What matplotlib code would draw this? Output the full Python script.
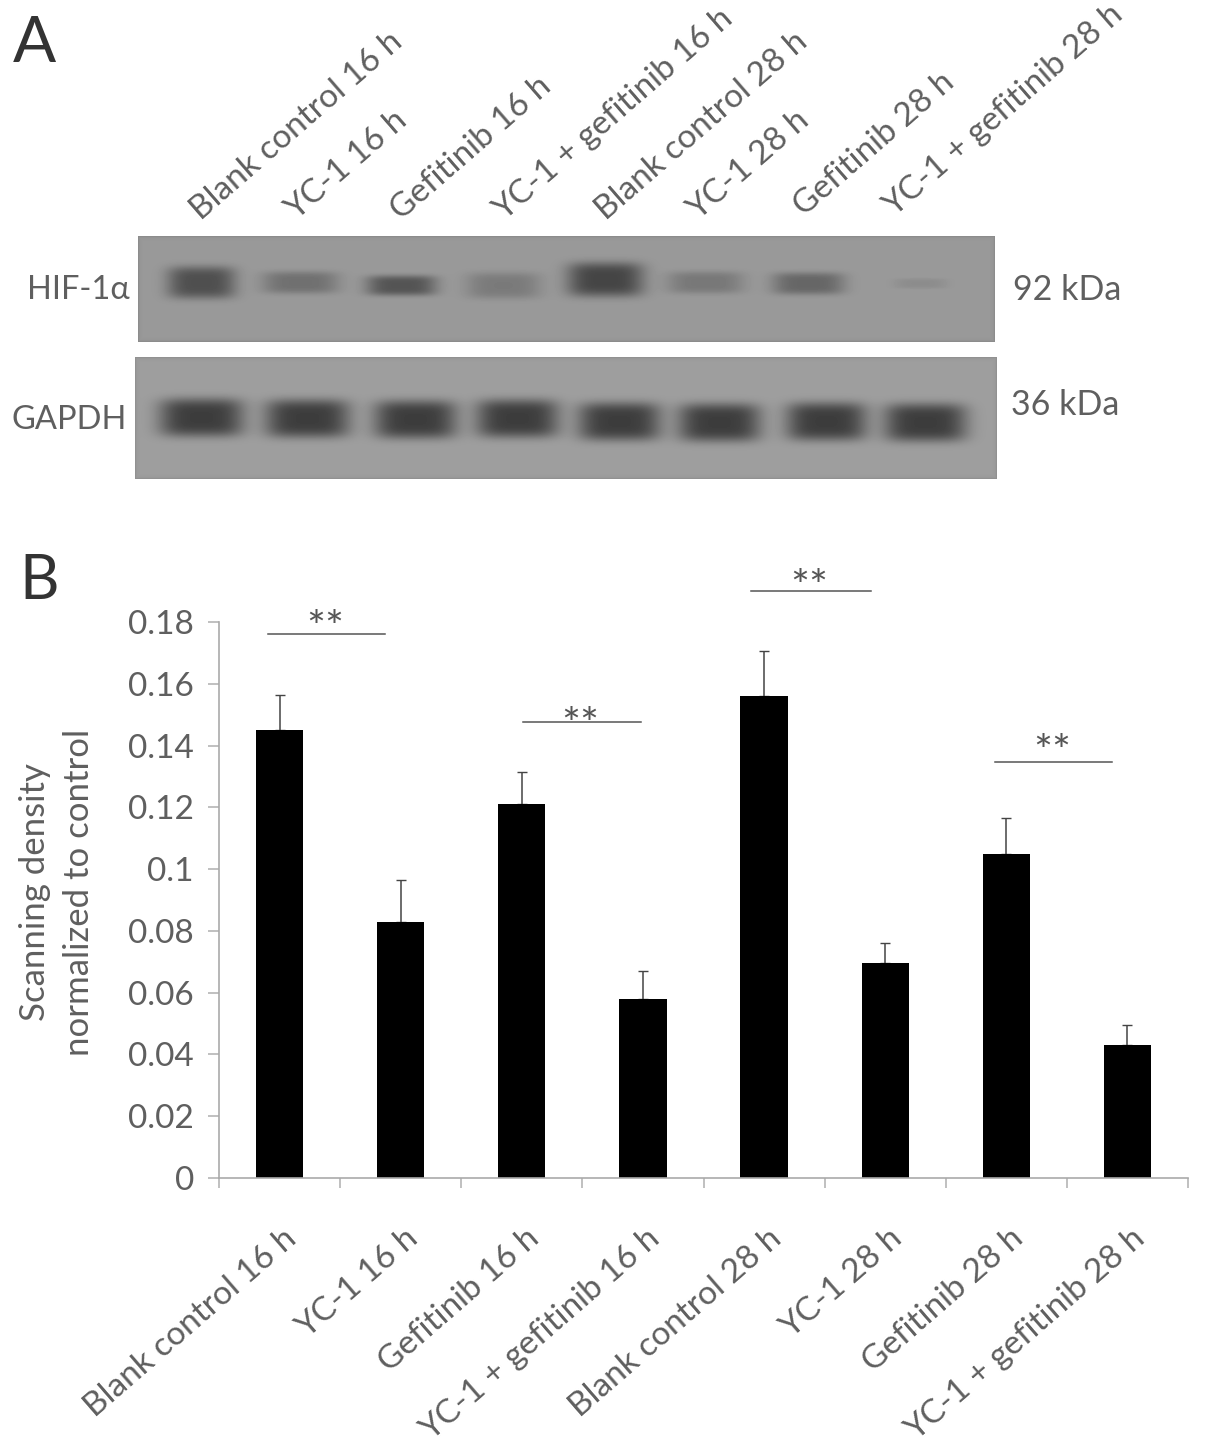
import numpy as np
import matplotlib
matplotlib.use('Agg')
import matplotlib.pyplot as plt

plt.rcParams['font.family'] = ['Lato', 'DejaVu Sans']
W, H = 1205, 1450
TXT = '#5f5f5f'

categories = ['Blank control 16 h', 'YC-1 16 h', 'Gefitinib 16 h', 'YC-1 + gefitinib 16 h',
              'Blank control 28 h', 'YC-1 28 h', 'Gefitinib 28 h', 'YC-1 + gefitinib 28 h']
values = [0.145, 0.083, 0.121, 0.058, 0.156, 0.0695, 0.105, 0.043]
errors = [0.0115, 0.0135, 0.0105, 0.009, 0.0145, 0.0065, 0.0115, 0.0065]
yticks = [0, 0.02, 0.04, 0.06, 0.08, 0.1, 0.12, 0.14, 0.16, 0.18]
ytick_labels = ['0', '0.02', '0.04', '0.06', '0.08', '0.1', '0.12', '0.14', '0.16', '0.18']
sig_start = [-0.095, 2.01, 3.89, 5.91]
sig_end = [0.87, 2.98, 4.88, 6.87]
sig_level = [0.1761, 0.1476, 0.19, 0.1347]
sig_star = [0.1816, 0.1502, 0.1946, 0.1412]

hif_x = [201, 300, 401, 503, 605, 705, 808, 920]
hif_y = [282, 282, 285, 285, 279, 282, 283, 283]
hif_w = [34, 38, 35, 37, 38, 38, 36, 26]
hif_h = [16, 11, 10, 13, 17, 11, 11, 5]
hif_g = [0.31, 0.44, 0.33, 0.48, 0.27, 0.47, 0.40, 0.55]
gapdh_x = [201, 307, 415, 517, 619, 719, 826, 925]
gapdh_y = [417, 418, 419, 418, 421, 422, 421, 422]
gapdh_w = [42, 42, 41, 41, 41, 41, 40, 41]
gapdh_h = [19, 19, 19, 19, 19, 19, 19, 19]
gapdh_g = [0.24, 0.24, 0.24, 0.24, 0.24, 0.24, 0.24, 0.24]

fig = plt.figure(figsize=(W / 100, H / 100), dpi=100, facecolor='white')


def ax_px(x0, y0, x1, y1):
    return fig.add_axes([x0 / W, 1 - y1 / H, (x1 - x0) / W, (y1 - y0) / H])


def blot(x0, y0, x1, y1, xs, ys, ws, hs, gs, bg):
    ax = ax_px(x0, y0, x1, y1)
    X, Y = np.meshgrid(np.arange(x0, x1), np.arange(y0, y1))
    img = np.full(X.shape, bg, dtype=float)
    for x, y, w, h, g in zip(xs, ys, ws, hs, gs):
        r = (np.abs(X - x) / w) ** 4 + (np.abs(Y - y) / h) ** 4
        img -= (bg - g) * np.exp(-r)
    edge = np.minimum.reduce([X - x0, x1 - 1 - X, Y - y0, y1 - 1 - Y])
    img -= 0.05 * np.exp(-edge / 1.5)
    ax.imshow(img, cmap='gray', vmin=0, vmax=1, aspect='auto', interpolation='bilinear',
              extent=(x0, x1, y1, y0))
    ax.axis('off')


blot(138, 236, 995, 342, hif_x, hif_y, hif_w, hif_h, hif_g, 0.60)
blot(135, 357, 997, 479, gapdh_x, gapdh_y, gapdh_w, gapdh_h, gapdh_g, 0.62)

ax = ax_px(219, 622, 1188, 1178)
pos = np.arange(len(values))
ax.bar(pos, values, width=0.39, color='black', zorder=2)
ax.errorbar(pos, values, yerr=[np.zeros(8), errors], fmt='none', ecolor='#444444',
            elinewidth=1.1, capsize=3.5, capthick=1.0, zorder=1)
ax.set_xlim(-0.5, 7.5)
ax.set_ylim(0, 0.18)
ax.set_yticks(yticks)
ax.set_yticklabels(ytick_labels, fontsize=24, color=TXT)
ax.set_xticks(np.arange(-0.5, 8, 1))
ax.set_xticklabels([])
ax.tick_params(axis='y', length=8, color='#b5b5b5', width=1.2, pad=10)
ax.tick_params(axis='x', length=7.5, color='#b5b5b5', width=1.2)
for s in ('top', 'right'):
    ax.spines[s].set_visible(False)
for s in ('left', 'bottom'):
    ax.spines[s].set_color('#aaaaaa')
    ax.spines[s].set_linewidth(1.2)

for i, c in zip(pos, categories):
    ax.annotate(c, xy=(i, 0), xycoords=('data', 'axes fraction'), xytext=(3, -45),
                textcoords='offset pixels', rotation=41, ha='right', va='top',
                rotation_mode='anchor', fontsize=24, color=TXT)

for a, b, y, st in zip(sig_start, sig_end, sig_level, sig_star):
    ax.plot([a, b], [y, y], color='#555555', lw=1.1, clip_on=False)
    ax.text((a + b) / 2 - 0.01, st - 0.01055, '**', ha='center', va='bottom', fontsize=32, color='#555555')


def px(x, y, s, **kw):
    fig.text(x / W, 1 - y / H, s, **kw)


px(35, 892, 'Scanning density', rotation=90, ha='center', va='center', fontsize=25, color=TXT)
px(79, 892, 'normalized to control', rotation=90, ha='center', va='center', fontsize=25, color=TXT)

px(13, 44, 'A', fontsize=46, color='#333333', ha='left', va='center')
px(19, 582, 'B', fontsize=44, color='#333333', ha='left', va='center')

px(130, 290, 'HIF-1α', fontsize=23.5, color=TXT, ha='right', va='center')
px(127, 420, 'GAPDH', fontsize=23.5, color=TXT, ha='right', va='center')
px(1013, 290, '92 kDa', fontsize=24.5, color=TXT, ha='left', va='center')
px(1011, 405, '36 kDa', fontsize=24.5, color=TXT, ha='left', va='center')

top_x = [205, 300, 405, 508, 610, 702, 808, 898]
top_y = [226, 226, 226, 226, 226, 226, 222, 222]
for x, y, c in zip(top_x, top_y, categories):
    px(x, y, c, rotation=41, ha='left', va='bottom', rotation_mode='anchor', fontsize=24, color=TXT)

fig.savefig('out.png', dpi=100)
